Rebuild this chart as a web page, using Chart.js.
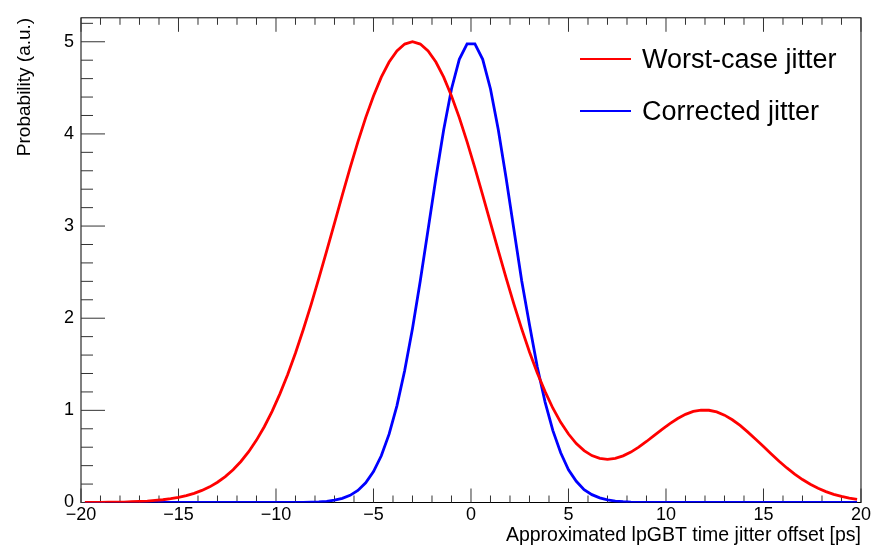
<!DOCTYPE html>
<html>
  <head>
    <meta charset="UTF-8" />
    <title>lpGBT jitter</title>
    <script src="https://cdn.jsdelivr.net/npm/chart.js"></script>
    <style>
      html, body { margin: 0; padding: 0; background: #fff; }
      canvas { display: block; }
    </style>
  </head>
  <body>
    <canvas id="grafico" width="873" height="549"></canvas>

    <script>
      // bin centres [ps]
      const offsets = [
        -19.8, -19.4, -19, -18.6, -18.2, -17.8, -17.4, -17, -16.6, -16.2,
        -15.8, -15.4, -15, -14.6, -14.2, -13.8, -13.4, -13, -12.6, -12.2,
        -11.8, -11.4, -11, -10.6, -10.2, -9.8, -9.4, -9, -8.6, -8.2,
        -7.8, -7.4, -7, -6.6, -6.2, -5.8, -5.4, -5, -4.6, -4.2,
        -3.8, -3.4, -3, -2.6, -2.2, -1.8, -1.4, -1, -0.6, -0.2,
        0.2, 0.6, 1, 1.4, 1.8, 2.2, 2.6, 3, 3.4, 3.8,
        4.2, 4.6, 5, 5.4, 5.8, 6.2, 6.6, 7, 7.4, 7.8,
        8.2, 8.6, 9, 9.4, 9.8, 10.2, 10.6, 11, 11.4, 11.8,
        12.2, 12.6, 13, 13.4, 13.8, 14.2, 14.6, 15, 15.4, 15.8,
        16.2, 16.6, 17, 17.4, 17.8, 18.2, 18.6, 19, 19.4, 19.8
      ];

      const worstCase = [
        0.001, 0.001, 0.002, 0.003, 0.004, 0.005, 0.008, 0.011, 0.015, 0.022,
        0.030, 0.041, 0.056, 0.075, 0.099, 0.131, 0.170, 0.220, 0.281, 0.355,
        0.445, 0.551, 0.677, 0.822, 0.989, 1.179, 1.390, 1.623, 1.877, 2.148,
        2.434, 2.731, 3.033, 3.335, 3.631, 3.914, 4.177, 4.412, 4.616, 4.780,
        4.901, 4.975, 5.000, 4.975, 4.901, 4.780, 4.616, 4.412, 4.177, 3.914,
        3.631, 3.336, 3.034, 2.733, 2.437, 2.153, 1.884, 1.634, 1.406, 1.203,
        1.023, 0.870, 0.743, 0.640, 0.563, 0.509, 0.479, 0.469, 0.479, 0.506,
        0.547, 0.601, 0.662, 0.728, 0.794, 0.857, 0.912, 0.957, 0.988, 1.003,
        1.001, 0.983, 0.948, 0.898, 0.836, 0.764, 0.687, 0.607, 0.526, 0.448,
        0.375, 0.309, 0.249, 0.198, 0.154, 0.118, 0.089, 0.066, 0.048, 0.034
      ];

      const corrected = [
        0, 0, 0, 0, 0, 0, 0, 0, 0, 0,
        0, 0, 0, 0, 0, 0, 0, 0, 0, 0,
        0, 0, 0, 0, 0, 0, 0, 0.001, 0.002, 0.004,
        0.007, 0.013, 0.025, 0.045, 0.078, 0.131, 0.213, 0.335, 0.507, 0.742,
        1.049, 1.432, 1.889, 2.407, 2.963, 3.522, 4.045, 4.488, 4.809, 4.978,
        4.978, 4.809, 4.488, 4.045, 3.522, 2.963, 2.407, 1.93, 1.47, 1.09,
        0.78, 0.54, 0.355, 0.23, 0.14, 0.085, 0.05, 0.028, 0.015, 0.008,
        0.004, 0.002, 0.001, 0, 0, 0, 0, 0, 0, 0,
        0, 0, 0, 0, 0, 0, 0, 0, 0, 0,
        0, 0, 0, 0, 0, 0, 0, 0, 0, 0
      ];

      const xTicks = [-20, -15, -10, -5, 0, 5, 10, 15, 20];
      const yTicks = [0, 1, 2, 3, 4, 5];

      const FONT = "'Liberation Sans', Arial, Helvetica, sans-serif";

      function pontos(ys) {
        return offsets.map((x, i) => ({ x: x, y: ys[i] }));
      }

      function rotulo(v) {
        return v < 0 ? "\u2212" + Math.abs(v) : String(v);
      }

      // ROOT style frame + inward ticks
      const moldura = {
        id: "moldura",
        beforeDatasetsDraw(chart) {
          const { ctx, chartArea: a, scales } = chart;
          const xs = scales.x, ys = scales.y;
          ctx.save();
          ctx.strokeStyle = "#000";
          ctx.lineWidth = 1;
          ctx.strokeRect(a.left, a.top, a.right - a.left, a.bottom - a.top);

          ctx.strokeStyle = "#333";
          ctx.beginPath();
          for (let v = -20; v <= 20; v++) {
            const px = xs.getPixelForValue(v);
            const len = v % 5 === 0 ? 14 : 7;
            ctx.moveTo(px, a.bottom);
            ctx.lineTo(px, a.bottom - len);
            ctx.moveTo(px, a.top);
            ctx.lineTo(px, a.top + len);
          }
          for (let i = 0; i <= 26; i++) {
            const py = ys.getPixelForValue(i * 0.2);
            const len = i % 5 === 0 ? 24 : 12;
            ctx.moveTo(a.left, py);
            ctx.lineTo(a.left + len, py);
          }
          ctx.stroke();
          ctx.restore();
        },
        afterDraw(chart) {
          const { ctx } = chart;
          const linhas = [59, 111];
          ctx.save();
          ctx.font = "27px " + FONT;
          ctx.textBaseline = "middle";
          ctx.textAlign = "left";
          chart.data.datasets.forEach((ds, i) => {
            ctx.strokeStyle = ds.borderColor;
            ctx.lineWidth = 2;
            ctx.beginPath();
            ctx.moveTo(580, linhas[i]);
            ctx.lineTo(631, linhas[i]);
            ctx.stroke();
            ctx.fillStyle = "#000";
            ctx.fillText(ds.label, 642, linhas[i] + 2);
          });
          ctx.restore();
        },
      };

      const ctx = document.getElementById("grafico").getContext("2d");
      new Chart(ctx, {
        type: "line",
        data: {
          datasets: [
            {
              label: "Worst-case jitter",
              data: pontos(worstCase),
              borderColor: "#ff0000",
              borderWidth: 2.8,
              pointRadius: 0,
              tension: 0,
              fill: false,
            },
            {
              label: "Corrected jitter",
              data: pontos(corrected),
              borderColor: "#0000ff",
              borderWidth: 2.8,
              pointRadius: 0,
              tension: 0,
              fill: false,
            },
          ],
        },
        options: {
          responsive: false,
          animation: false,
          devicePixelRatio: 1,
          layout: { padding: { top: 14, right: 12, bottom: 0, left: 0 } },
          plugins: {
            legend: { display: false },
            tooltip: { enabled: false },
          },
          scales: {
            x: {
              type: "linear",
              min: -20,
              max: 20,
              afterBuildTicks: (s) => {
                s.ticks = xTicks.map((v) => ({ value: v }));
              },
              afterFit: (s) => {
                s.height = 46.5;
              },
              grid: { display: false, drawTicks: false, tickLength: 0 },
              border: { display: false },
              ticks: {
                callback: rotulo,
                color: "#000",
                font: { family: FONT, size: 18 },
                padding: 2,
                maxRotation: 0,
                autoSkip: false,
              },
              title: {
                display: true,
                text: "Approximated lpGBT time jitter offset [ps]",
                align: "end",
                color: "#000",
                font: { family: FONT, size: 19.5 },
                padding: { top: 0, bottom: 2 },
              },
            },
            y: {
              min: 0,
              max: 5.26,
              afterBuildTicks: (s) => {
                s.ticks = yTicks.map((v) => ({ value: v }));
              },
              afterFit: (s) => {
                s.width = 81;
              },
              grid: { display: false, drawTicks: false, tickLength: 0 },
              border: { display: false },
              ticks: {
                callback: rotulo,
                color: "#000",
                font: { family: FONT, size: 18 },
                padding: 7,
              },
              title: {
                display: true,
                text: "Probability (a.u.)",
                align: "end",
                color: "#000",
                font: { family: FONT, size: 19 },
                padding: { top: 13, bottom: 0 },
              },
            },
          },
        },
        plugins: [moldura],
      });
    </script>
  </body>
</html>
